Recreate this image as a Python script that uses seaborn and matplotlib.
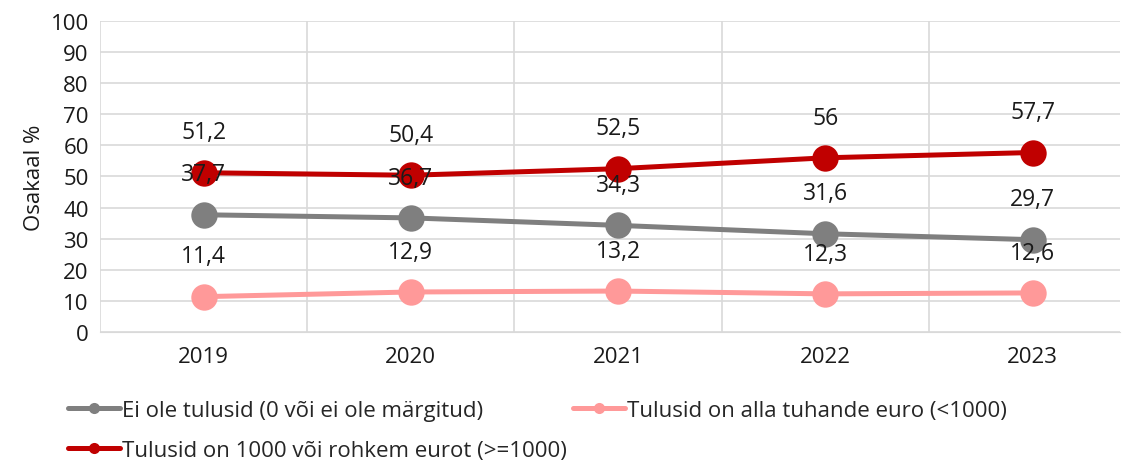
import pandas as pd
import matplotlib.pyplot as plt
import seaborn as sns
from matplotlib.lines import Line2D
from matplotlib.ticker import MultipleLocator, FixedLocator

# Andmed
years = ["2019", "2020", "2021", "2022", "2023"]
ei_ole = [37.7, 36.7, 34.3, 31.6, 29.7]
alla_1000 = [11.4, 12.9, 13.2, 12.3, 12.6]
yle_1000 = [51.2, 50.4, 52.5, 56.0, 57.7]

series = ["Ei ole tulusid (0 või ei ole märgitud)",
          "Tulusid on alla tuhande euro (<1000)",
          "Tulusid on 1000 või rohkem eurot (>=1000)"]
colors = ["#7f7f7f", "#ff9999", "#c00000"]

rows = []
for name, vals in zip(series, [ei_ole, alla_1000, yle_1000]):
    for i, (y, v) in enumerate(zip(years, vals)):
        rows.append({"x": i, "aasta": y, "seeria": name, "väärtus": v})
df = pd.DataFrame(rows)

sns.set_style("white")
plt.rcParams["font.family"] = ["Open Sans", "DejaVu Sans"]

fig = plt.figure(figsize=(11.23, 4.64), dpi=100)
ax = fig.add_axes([0.089, 0.282, 0.908, 0.671])

sns.lineplot(data=df, x="x", y="väärtus", hue="seeria", palette=colors,
             marker="o", markersize=19, markeredgewidth=0, linewidth=3.6,
             legend=False, ax=ax)

# Andmesildid
for _, r in df.iterrows():
    ax.annotate(f"{r['väärtus']:g}".replace(".", ","), (r["x"], r["väärtus"]),
                xytext=(0, 29), textcoords="offset points",
                ha="center", va="center", fontsize=16.5, color="#1a1a1a")

ax.set_ylim(0, 100)
ax.set_xlim(-0.5, 4.42)
ax.yaxis.set_major_locator(MultipleLocator(10))
ax.set_xticks(range(len(years)))
ax.set_xticklabels(years)
ax.xaxis.set_minor_locator(FixedLocator([-0.5, 0.5, 1.5, 2.5, 3.5, 4.5]))
ax.grid(axis="y", which="major", color="#d9d9d9", linewidth=1.2)
ax.grid(axis="x", which="minor", color="#d9d9d9", linewidth=1.2)
ax.tick_params(axis="both", which="both", length=0, labelsize=16, colors="#1a1a1a")
ax.tick_params(axis="x", pad=10)
ax.tick_params(axis="y", pad=8)
for s in ["top", "right", "left"]:
    ax.spines[s].set_visible(False)
ax.spines["bottom"].set_color("#d9d9d9")
ax.set_xlabel("")
ax.set_ylabel("Osakaal %", fontsize=16, color="#1a1a1a", labelpad=4)
ax.set_axisbelow(True)

# Legend: rida-realt (hall, roosa / punane)
handles = [Line2D([], [], color=c, linewidth=3.6, marker="o", markersize=8,
                  markeredgewidth=0) for c in colors]
order = [0, 2, 1]
fig.legend([handles[i] for i in order], [series[i] for i in order],
           loc="lower left", bbox_to_anchor=(0.0605, 0.005),
           borderaxespad=0, borderpad=0,
           ncol=2, frameon=False, fontsize=16, handlelength=2.35,
           handletextpad=0.1, columnspacing=0.25, labelspacing=0.85)

fig.savefig("out.png", dpi=100)
